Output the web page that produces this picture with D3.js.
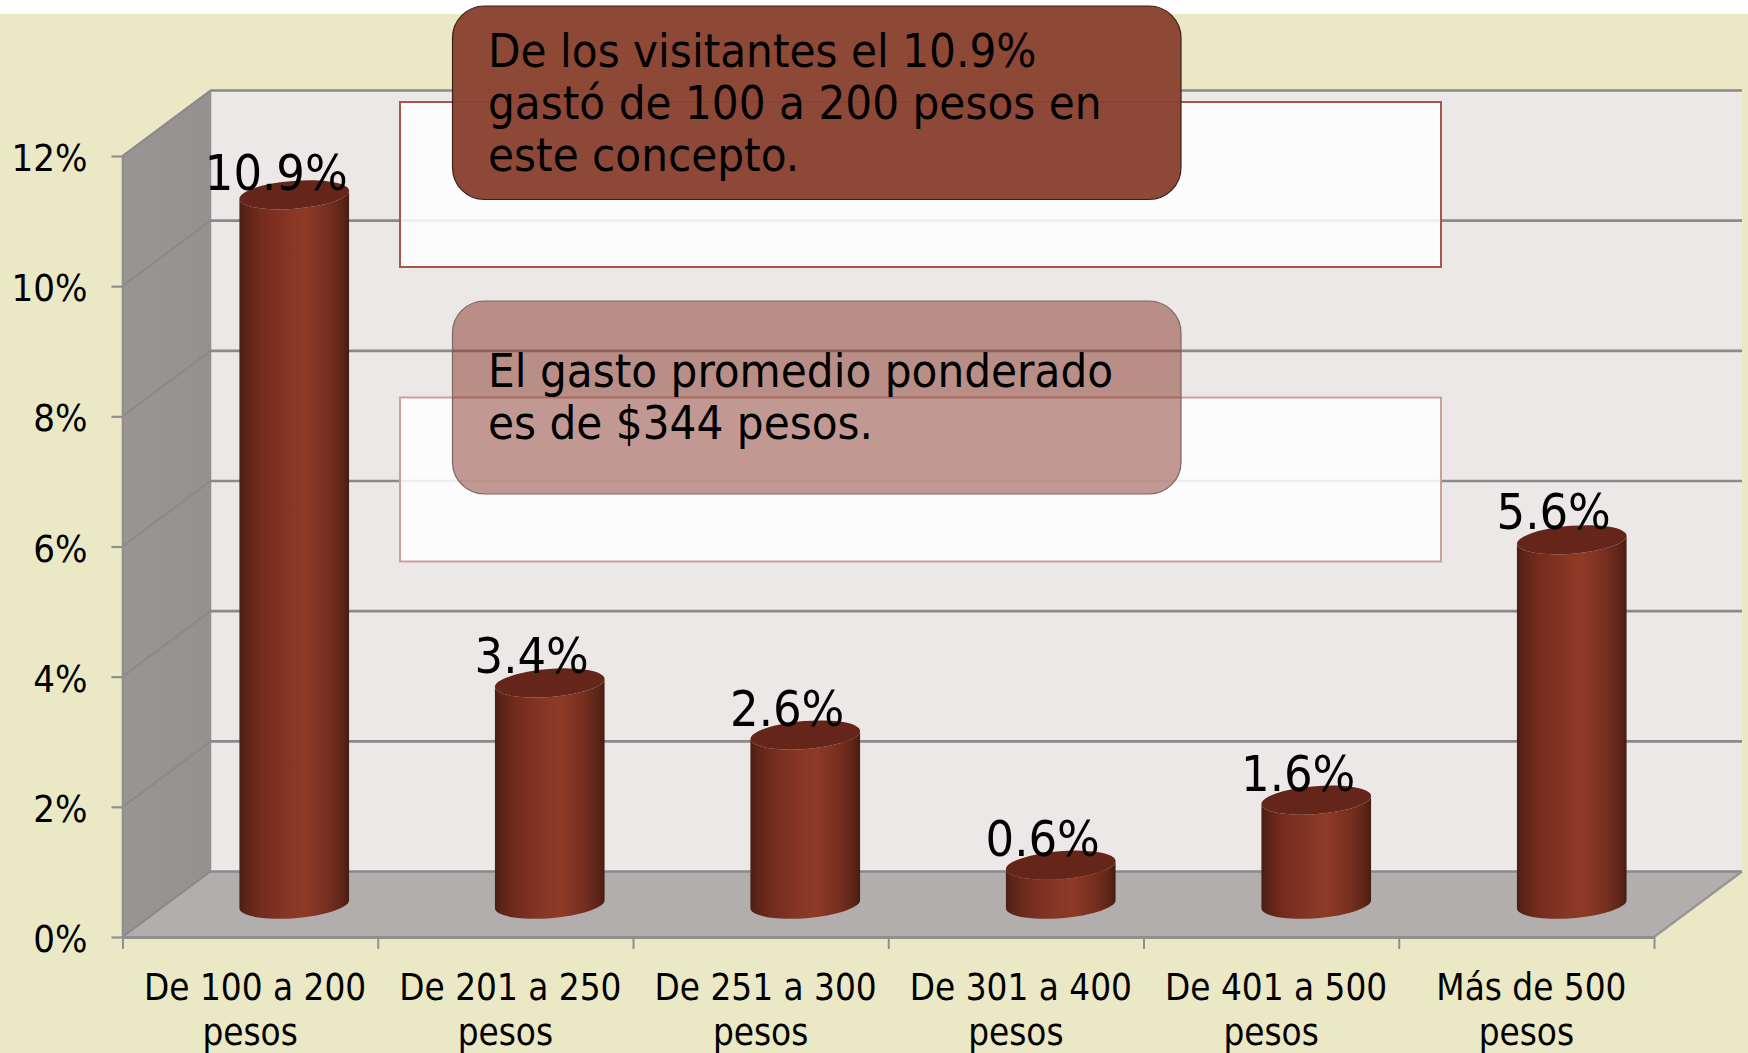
<!DOCTYPE html>
<html><head><meta charset="utf-8">
<script src="https://cdn.jsdelivr.net/npm/d3@7"></script>
<style>
html,body{margin:0;padding:0;background:#fff;overflow:hidden}
svg{display:block}
text{font-family:"DejaVu Sans Condensed","DejaVu Sans",sans-serif;font-stretch:condensed;fill:#000}
</style></head><body>
<script>
const categories = ["De 100 a 200 pesos","De 201 a 250 pesos","De 251 a 300 pesos","De 301 a 400 pesos","De 401 a 500 pesos","Más de 500 pesos"];
const categoryLine1 = ["De 100 a 200","De 201 a 250","De 251 a 300","De 301 a 400","De 401 a 500","Más de 500"];
const categoryLine2 = ["pesos","pesos","pesos","pesos","pesos","pesos"];
const values = [10.9,3.4,2.6,0.6,1.6,5.6];
const yTicks = [0,2,4,6,8,10,12];
const note1 = ["De los visitantes el 10.9%","gastó de 100 a 200 pesos en","este concepto."];
const note2 = ["El gasto promedio ponderado","es de $344 pesos."];

const W=1748,H=1053, depthX=88, depthY=-65.5;
const labelLift=[5,10,9,9,9,11];
const svg=d3.select("body").append("svg").attr("width",W).attr("height",H);
const defs=svg.append("defs");
const x=d3.scaleBand().domain(categories).range([122.5,1654]);
const xBar=d3.scaleBand().domain(categories).range([122.5,1655.5]);
const xEdge=d3.scaleLinear().domain([0,categories.length]).range([122.5,1654]);
const y=d3.scaleLinear().domain([0,12]).range([937,156]);
const GRID="#8a8a8a", AX="#8f8f8f";

const g1=defs.append("linearGradient").attr("id","cyl");
[[0,"#4a1e13"],[.06,"#5c2417"],[.2,"#742c1d"],[.45,"#873624"],[.6,"#8e3a27"],[.8,"#782f1f"],[.93,"#5f2618"],[1,"#481c12"]]
 .forEach(d=>g1.append("stop").attr("offset",d[0]).attr("stop-color",d[1]));
const g2=defs.append("linearGradient").attr("id","wall").attr("x1",0).attr("x2",1);
g2.append("stop").attr("offset",0).attr("stop-color","#989594");
g2.append("stop").attr("offset",1).attr("stop-color","#95918f");

svg.append("rect").attr("x",0).attr("y",14).attr("width",W).attr("height",H-14).attr("fill","#ebe8c5");

const poly=d=>d.map(p=>p.join(",")).join(" ");
const x0=xEdge(0),x1=xEdge(categories.length),yB=y(0),yT=y(12);
svg.append("polygon").attr("points",poly([[x0+depthX,yT+depthY],[x1+depthX,yT+depthY],[x1+depthX,yB+depthY],[x0+depthX,yB+depthY]])).attr("fill","#ece8e7");
svg.append("polygon").attr("points",poly([[x0,yT],[x0+depthX,yT+depthY],[x0+depthX,yB+depthY],[x0,yB]])).attr("fill","url(#wall)").attr("stroke",AX).attr("stroke-width",1.5);
svg.append("polygon").attr("points",poly([[x0,yB],[x0+depthX,yB+depthY],[x1+depthX,yB+depthY],[x1,yB]])).attr("fill","#b2aeae");
const grid=svg.append("g").attr("fill","none").attr("stroke",GRID);
yTicks.forEach(t=>{
  grid.append("polyline").attr("stroke-width",2.6).attr("points",poly([[x0+depthX,y(t)+depthY],[x1+depthX,y(t)+depthY]]));
  grid.append("line").attr("stroke-width",2).attr("x1",x0).attr("y1",y(t)).attr("x2",x0+depthX).attr("y2",y(t)+depthY);
});
grid.append("line").attr("stroke-width",2.2).attr("x1",x1).attr("y1",yB).attr("x2",x1+depthX).attr("y2",yB+depthY).attr("stroke","#969696");

const yAxis=svg.append("g").attr("transform",`translate(${x0},0)`)
  .call(d3.axisLeft(y).tickValues(yTicks).tickSize(11).tickSizeOuter(0).tickFormat(d=>d+"%"));
yAxis.selectAll("path,line").attr("stroke",AX).attr("stroke-width",2.2);
yAxis.selectAll("text").attr("x",-35).attr("dy",null).attr("y",14.5).attr("font-size",38).attr("font-family",null).attr("text-anchor","end");
const xAxis=svg.append("g").attr("transform",`translate(0,${yB})`)
  .call(d3.axisBottom(xEdge).tickValues(d3.range(categories.length+1)).tickSize(12).tickSizeOuter(0).tickFormat(""));
xAxis.selectAll("path").attr("stroke",AX).attr("stroke-width",3);
xAxis.selectAll("line").attr("stroke",AX).attr("stroke-width",2);

const rx=55, ry=14, tilt=-4.5, cs=Math.cos(tilt*Math.PI/180), sn=Math.sin(tilt*Math.PI/180);
const bars=svg.append("g").selectAll("g").data(values).join("g");
const cxOf=i=>xBar(categories[i])+xBar.bandwidth()/2+depthX/2;
bars.append("path").attr("fill","url(#cyl)").attr("d",(v,i)=>{
  const cx=cxOf(i), yt=y(v)+depthY/2, yb=y(0)+depthY/2;
  const lx=cx-rx*cs, ly=-rx*sn, rxx=cx+rx*cs;
  return `M${lx},${yt+ly}L${lx},${yb+ly}A${rx},${ry} ${tilt} 0 0 ${rxx},${yb-ly}L${rxx},${yt-ly}A${rx},${ry} ${tilt} 0 1 ${lx},${yt+ly}Z`;
});
bars.append("ellipse").attr("fill","#65251a")
  .attr("rx",rx).attr("ry",ry)
  .attr("transform",(v,i)=>`translate(${cxOf(i)},${y(v)+depthY/2}) rotate(${tilt})`);
svg.append("g").selectAll("text").data(values).join("text")
  .attr("x",(v,i)=>cxOf(i)-18).attr("y",(v,i)=>y(v)+depthY/2-labelLift[i])
  .attr("text-anchor","middle").attr("font-size",50).text(v=>v.toFixed(1)+"%");
const cat=svg.append("g");
categories.forEach((c,i)=>{
  const cx=x(c)+x.bandwidth()/2;
  cat.append("text").attr("x",cx+5).attr("y",999.5).attr("text-anchor","middle").attr("font-size",36.5).text(categoryLine1[i]);
  cat.append("text").attr("x",cx).attr("y",1044.5).attr("text-anchor","middle").attr("font-size",36.5).text(categoryLine2[i]);
});

const notes=[
 {lines:note1,wy:102,wh:165,wstroke:"#a8554c",ry:6,rh:193.5,fill:"#8b4433",op:.98,stroke:"#3c2019",base:66.5,step:52},
 {lines:note2,wy:397.5,wh:164,wstroke:"#c9a09a",ry:301,rh:193,fill:"#8b3c2f",op:.52,stroke:"#7d6661",base:386.5,step:52}
];
notes.forEach(n=>{
  svg.append("rect").attr("x",400).attr("y",n.wy).attr("width",1041).attr("height",n.wh)
    .attr("fill","#fff").attr("fill-opacity",.85).attr("stroke",n.wstroke).attr("stroke-width",2);
  svg.append("rect").attr("x",452.5).attr("y",n.ry).attr("width",728.5).attr("height",n.rh).attr("rx",32)
    .attr("fill",n.fill).attr("fill-opacity",n.op).attr("stroke",n.stroke).attr("stroke-width",1.2);
  n.lines.forEach((l,i)=>svg.append("text").attr("x",488).attr("y",n.base+i*n.step).attr("font-size",47).text(l));
});
</script></body></html>
